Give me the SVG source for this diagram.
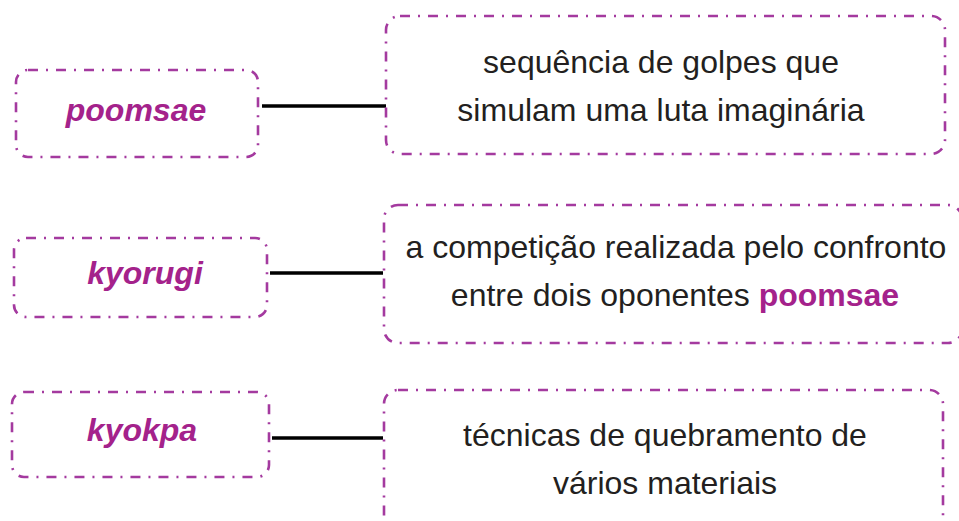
<svg xmlns="http://www.w3.org/2000/svg" width="959" height="521" viewBox="0 0 959 521">
<style>
.box{fill:#ffffff;stroke:#a43a9f;stroke-width:2.6;stroke-dasharray:10 8 2 8;}
.lbl{font-family:"Liberation Sans",Arial,sans-serif;font-size:32px;font-weight:bold;font-style:italic;fill:#a4228b;text-anchor:middle;}
.txt{font-family:"Liberation Sans",Arial,sans-serif;font-size:32px;fill:#231f20;text-anchor:middle;}
.hl{font-weight:bold;fill:#a4228b;}
.conn{stroke:#000000;stroke-width:3.5;fill:none;}
</style>
<rect width="959" height="521" fill="#ffffff"/>
<g id="connectors">
<line class="conn" x1="262" y1="106" x2="386" y2="106"/>
<line class="conn" x1="270" y1="273" x2="383" y2="273"/>
<line class="conn" x1="272" y1="438" x2="383" y2="438"/>
</g>
<g id="node-poomsae">
<rect class="box" x="16" y="70" width="242" height="87" rx="12"/>
<text class="lbl" x="136" y="121">poomsae</text>
</g>
<g id="node-kyorugi">
<rect class="box" x="14" y="238" width="253" height="79" rx="12"/>
<text class="lbl" x="145" y="284">kyorugi</text>
</g>
<g id="node-kyokpa">
<rect class="box" x="12" y="392" width="257" height="85" rx="12"/>
<text class="lbl" x="142" y="441">kyokpa</text>
</g>
<g id="node-def1">
<rect class="box" x="386" y="16" width="559" height="138" rx="14"/>
<text class="txt" x="661" y="73">sequência de golpes que</text>
<text class="txt" x="661" y="121">simulam uma luta imaginária</text>
</g>
<g id="node-def2">
<rect class="box" x="384" y="205" width="578" height="138" rx="14"/>
<text class="txt" x="676" y="258">a competição realizada pelo confronto</text>
<text class="txt" x="675" y="306">entre dois oponentes <tspan class="hl">poomsae</tspan></text>
</g>
<g id="node-def3">
<rect class="box" x="384" y="390" width="559" height="150" rx="14"/>
<text class="txt" x="665" y="446">técnicas de quebramento de</text>
<text class="txt" x="665" y="494">vários materiais</text>
</g>
</svg>
